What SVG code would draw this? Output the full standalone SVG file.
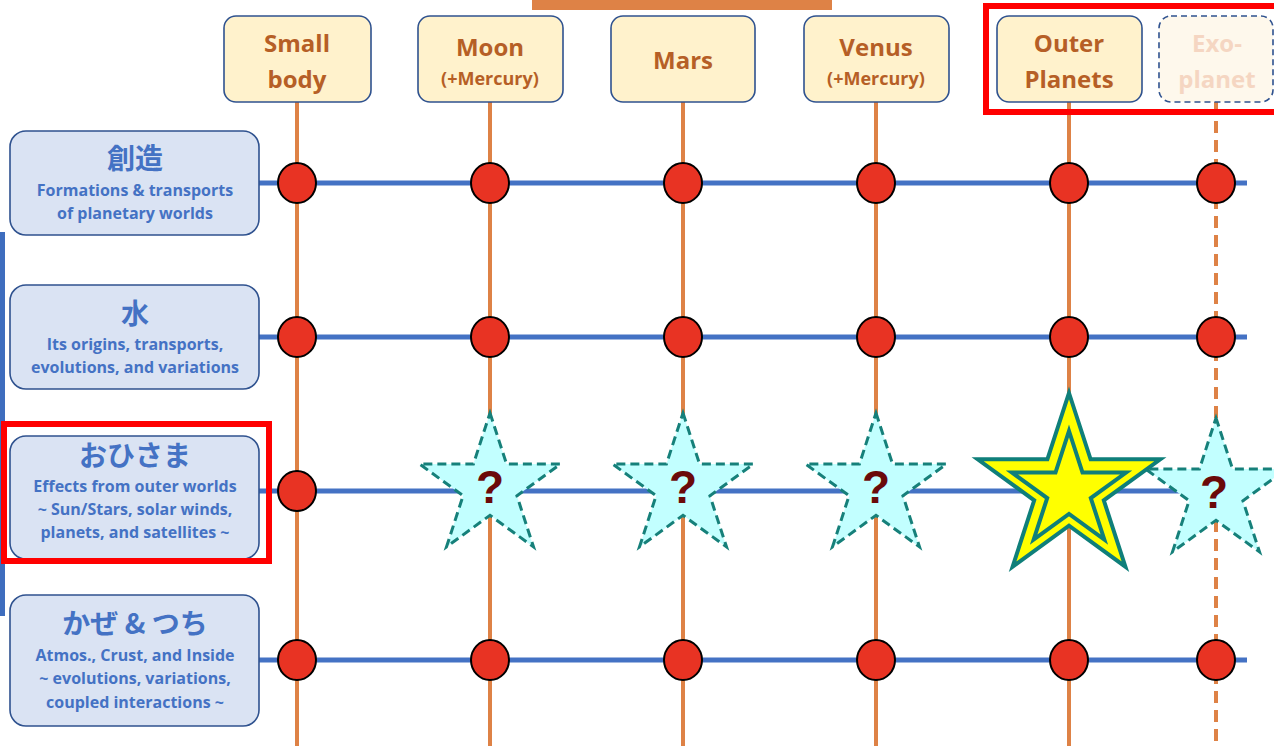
<svg xmlns="http://www.w3.org/2000/svg" width="1274" height="746" viewBox="0 0 1274 746">
<style>
.vline{stroke:#DE8246;stroke-width:4;fill:none}
.hline{stroke:#4472C4;stroke-width:5;fill:none}
.dot{fill:#E83323;stroke:#000;stroke-width:2}
.hbox{fill:#FFF2CC;stroke:#2F528F;stroke-width:1.6}
.lbox{fill:#DAE3F3;stroke:#2F528F;stroke-width:1.6}
.ht{font-family:"Open Sans","Liberation Sans",sans-serif;font-weight:bold;fill:#B65F26;text-anchor:middle}
.lt{font-family:"Open Sans","Liberation Sans","Noto Sans CJK JP",sans-serif;font-weight:bold;fill:#4472C4;text-anchor:middle;font-size:16px}
.jp{font-family:"Noto Sans CJK JP",sans-serif;font-weight:bold;fill:#4472C4;text-anchor:middle;font-size:28px}
.q{font-family:"Liberation Sans",sans-serif;font-weight:bold;fill:#6B0A0A;text-anchor:middle;font-size:46px}
.cstar{fill:#C2FFFF;stroke:#16807A;stroke-width:3;stroke-dasharray:9 5}
.ystar{fill:#FFFF00;stroke:#0F7F7A;stroke-width:4;stroke-linejoin:miter}
.hl{fill:none;stroke:#FF0000;stroke-width:6}
</style>
<defs>
<polygon id="st" points="0,-74 16.6,-22.9 70.4,-22.9 26.9,8.7 43.5,59.9 0,28.3 -43.5,59.9 -26.9,8.7 -70.4,-22.9 -16.6,-22.9"/>
</defs>
<rect x="532" y="0" width="300" height="10" fill="#DE8246"/>
<rect x="0" y="232" width="5" height="384" fill="#3E6DBE"/>
<g id="connectors">
<line class="vline" x1="297" y1="102" x2="297" y2="746"/>
<line class="vline" x1="490" y1="102" x2="490" y2="746"/>
<line class="vline" x1="683" y1="102" x2="683" y2="746"/>
<line class="vline" x1="876" y1="102" x2="876" y2="746"/>
<line class="vline" x1="1069" y1="102" x2="1069" y2="746"/>
<line class="vline" x1="1216" y1="102" x2="1216" y2="746" stroke-dasharray="12 7"/>
<line class="hline" x1="259" y1="183" x2="1247" y2="183"/>
<line class="hline" x1="259" y1="337" x2="1247" y2="337"/>
<line class="hline" x1="259" y1="491" x2="1247" y2="491"/>
<line class="hline" x1="259" y1="660" x2="1247" y2="660"/>
</g>
<g id="dots">
<ellipse class="dot" cx="297" cy="183" rx="19" ry="20"/>
<ellipse class="dot" cx="490" cy="183" rx="19" ry="20"/>
<ellipse class="dot" cx="683" cy="183" rx="19" ry="20"/>
<ellipse class="dot" cx="876" cy="183" rx="19" ry="20"/>
<ellipse class="dot" cx="1069" cy="183" rx="19" ry="20"/>
<ellipse class="dot" cx="1216" cy="183" rx="19" ry="20"/>
<ellipse class="dot" cx="297" cy="337" rx="19" ry="20"/>
<ellipse class="dot" cx="490" cy="337" rx="19" ry="20"/>
<ellipse class="dot" cx="683" cy="337" rx="19" ry="20"/>
<ellipse class="dot" cx="876" cy="337" rx="19" ry="20"/>
<ellipse class="dot" cx="1069" cy="337" rx="19" ry="20"/>
<ellipse class="dot" cx="1216" cy="337" rx="19" ry="20"/>
<ellipse class="dot" cx="297" cy="491" rx="19" ry="20"/>
<ellipse class="dot" cx="297" cy="660" rx="19" ry="20"/>
<ellipse class="dot" cx="490" cy="660" rx="19" ry="20"/>
<ellipse class="dot" cx="683" cy="660" rx="19" ry="20"/>
<ellipse class="dot" cx="876" cy="660" rx="19" ry="20"/>
<ellipse class="dot" cx="1069" cy="660" rx="19" ry="20"/>
<ellipse class="dot" cx="1216" cy="660" rx="19" ry="20"/>
</g>
<g id="stars">
<use href="#st" class="cstar" x="490" y="487"/>
<text class="q" x="490" y="503">?</text>
<use href="#st" class="cstar" x="683" y="487"/>
<text class="q" x="683" y="503">?</text>
<use href="#st" class="cstar" x="876" y="487"/>
<text class="q" x="876" y="503">?</text>
<use href="#st" class="cstar" x="1216" y="492"/>
<text class="q" x="1214" y="508">?</text>
<polygon class="ystar" transform="translate(1069,489)" points="0,-96 21.6,-29.7 91.3,-29.7 34.8,11.3 56.4,77.7 0,36.7 -56.4,77.7 -34.8,11.3 -91.3,-29.7 -21.6,-29.7"/>
<polygon class="ystar" transform="translate(1069,491)" points="0,-60 13.5,-18.5 57.1,-18.5 21.8,7.1 35.3,48.5 0,22.9 -35.3,48.5 -21.8,7.1 -57.1,-18.5 -13.5,-18.5"/>
</g>
<g id="h-small">
<rect class="hbox" x="224" y="16" width="147" height="86" rx="12"/>
<text class="ht" font-size="24" x="297" y="52">Small</text>
<text class="ht" font-size="24" x="297" y="88">body</text>
</g>
<g id="h-moon">
<rect class="hbox" x="418" y="16" width="145" height="86" rx="12"/>
<text class="ht" font-size="24" x="490" y="56">Moon</text>
<text class="ht" font-size="18" x="490" y="85">(+Mercury)</text>
</g>
<g id="h-mars">
<rect class="hbox" x="611" y="16" width="144" height="86" rx="12"/>
<text class="ht" font-size="24" x="683" y="69">Mars</text>
</g>
<g id="h-venus">
<rect class="hbox" x="804" y="16" width="145" height="86" rx="12"/>
<text class="ht" font-size="24" x="876" y="56">Venus</text>
<text class="ht" font-size="18" x="876" y="85">(+Mercury)</text>
</g>
<g id="h-outer">
<rect class="hbox" x="997" y="16" width="145" height="86" rx="12"/>
<text class="ht" font-size="24" x="1069" y="52">Outer</text>
<text class="ht" font-size="24" x="1069" y="88">Planets</text>
</g>
<g id="h-exo">
<rect x="1159" y="16" width="114" height="86" rx="12" fill="#FEF8EC" stroke="#2F528F" stroke-width="1.6" stroke-dasharray="6 4"/>
<text class="ht" font-size="24" x="1217" y="52" style="fill:#F5D6C2">Exo-</text>
<text class="ht" font-size="24" x="1217" y="88" style="fill:#F5D6C2">planet</text>
</g>
<g id="r-souzou">
<rect class="lbox" x="10" y="131" width="249" height="104" rx="16"/>
<text class="jp" x="135" y="169">創造</text>
<text class="lt" x="135" y="196">Formations &amp; transports</text>
<text class="lt" x="135" y="219">of planetary worlds</text>
</g>
<g id="r-mizu">
<rect class="lbox" x="10" y="285" width="249" height="104" rx="16"/>
<text class="jp" x="135" y="324">水</text>
<text class="lt" x="135" y="350">Its origins, transports,</text>
<text class="lt" x="135" y="373">evolutions, and variations</text>
</g>
<g id="r-ohisama">
<rect class="lbox" x="10" y="436" width="249" height="123" rx="16"/>
<text class="jp" x="135" y="466">おひさま</text>
<text class="lt" x="135" y="492">Effects from outer worlds</text>
<text class="lt" x="135" y="515">~ Sun/Stars, solar winds,</text>
<text class="lt" x="135" y="538">planets, and satellites ~</text>
</g>
<g id="r-kaze">
<rect class="lbox" x="10" y="595" width="249" height="131" rx="16"/>
<text class="jp" x="135" y="634">かぜ &amp; つち</text>
<text class="lt" x="135" y="661">Atmos., Crust, and Inside</text>
<text class="lt" x="135" y="684">~ evolutions, variations,</text>
<text class="lt" x="135" y="708">coupled interactions ~</text>
</g>
<g id="highlights">
<rect class="hl" x="986" y="6" width="294" height="106"/>
<rect class="hl" x="4" y="424" width="265" height="137"/>
</g>
</svg>
